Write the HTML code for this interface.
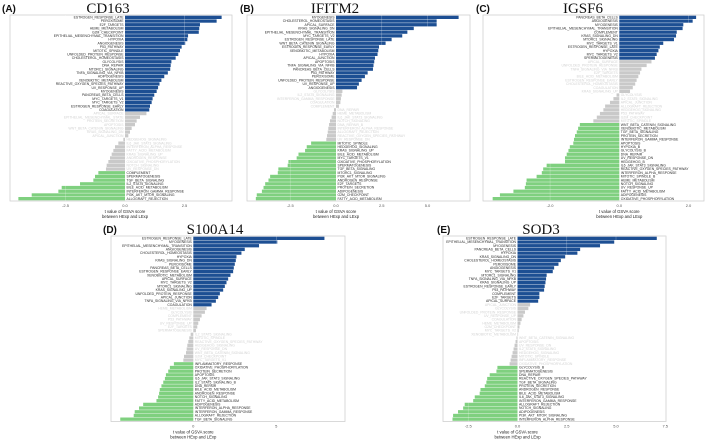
<!DOCTYPE html>
<html><head><meta charset="utf-8">
<style>
html,body{margin:0;padding:0;background:#fff;}
svg{display:block;}
</style></head>
<body>
<svg id="fig" width="709" height="440" viewBox="0 0 709 440" xmlns="http://www.w3.org/2000/svg"></svg>
<script>
// ---- data (t value of GSVA score, HExp vs LExp) ----
const cd163Labels = ["ESTROGEN_RESPONSE_LATE","PEROXISOME","E2F_TARGETS","HEME_METABOLISM","G2M_CHECKPOINT","EPITHELIAL_MESENCHYMAL_TRANSITION","HYPOXIA","ANGIOGENESIS","P53_PATHWAY","MITOTIC_SPINDLE","UNFOLDED_PROTEIN_RESPONSE","CHOLESTEROL_HOMEOSTASIS","GLYCOLYSIS","DNA_REPAIR","MTORC1_SIGNALING","TNFA_SIGNALING_VIA_NFKB","ADIPOGENESIS","XENOBIOTIC_METABOLISM","REACTIVE_OXYGEN_SPECIES_PATHWAY","UV_RESPONSE_UP","MYOGENESIS","PANCREAS_BETA_CELLS","MYC_TARGETS_V1","MYC_TARGETS_V2","ESTROGEN_RESPONSE_EARLY","COAGULATION","APICAL_SURFACE","EPITHELIAL_MESENCHYMAL_STATE","PROTEIN_SECRETION","APOPTOSIS","WNT_BETA_CATENIN_SIGNALING","KRAS_SIGNALING_DN","APICAL_JUNCTION","HEDGEHOG_SIGNALING","IL6_JAK_STAT3_SIGNALING","INTERFERON_ALPHA_RESPONSE","FATTY_ACID_METABOLISM","KRAS_SIGNALING_UP","ANDROGEN_RESPONSE","OXIDATIVE_PHOSPHORYLATION","NOTCH_SIGNALING","UV_RESPONSE_DN","COMPLEMENT","SPERMATOGENESIS","TGF_BETA_SIGNALING","IL2_STAT5_SIGNALING","BILE_ACID_METABOLISM","INTERFERON_GAMMA_RESPONSE","PI3K_AKT_MTOR_SIGNALING","ALLOGRAFT_REJECTION"];
const cd163Values = [4.06,3.85,3.15,3.12,3.1,2.65,2.62,2.53,2.38,2.31,2.24,2.13,1.95,1.92,1.9,1.8,1.65,1.53,1.45,1.39,1.33,1.23,1.16,1.12,1.05,1.02,0.9,0.63,0.49,0.42,0.28,0.21,0.14,-0.07,-0.28,-0.42,-0.49,-0.56,-0.63,-0.7,-0.77,-0.8,-1.12,-1.26,-1.33,-1.89,-2.66,-2.8,-3.92,-4.48];
const cd163Ticks = [-2.5,0,2.5];

const ifitm2Labels = ["MYOGENESIS","CHOLESTEROL_HOMEOSTASIS","APICAL_SURFACE","KRAS_SIGNALING_DN","EPITHELIAL_MESENCHYMAL_TRANSITION","MYC_TARGETS_V2","ESTROGEN_RESPONSE_LATE","WNT_BETA_CATENIN_SIGNALING","ESTROGEN_RESPONSE_EARLY","XENOBIOTIC_METABOLISM","HYPOXIA","APICAL_JUNCTION","APOPTOSIS","TNFA_SIGNALING_VIA_NFKB","PANCREAS_BETA_CELLS","P53_PATHWAY","PEROXISOME","UNFOLDED_PROTEIN_RESPONSE","UV_RESPONSE_UP","ANGIOGENESIS","GLYCOLYSIS","IL2_STAT5_SIGNALING","INTERFERON_GAMMA_RESPONSE","COAGULATION","COMPLEMENT","DNA_REPAIR","HEME_METABOLISM","IL6_JAK_STAT3_SIGNALING","NOTCH_SIGNALING","DNA_REPAIR_B","INTERFERON_ALPHA_RESPONSE","ALLOGRAFT_REJECTION","REACTIVE_OXYGEN_SPECIES_PATHWAY","UV_RESPONSE_DN","MITOTIC_SPINDLE","HEDGEHOG_SIGNALING","KRAS_SIGNALING_UP","BILE_ACID_METABOLISM","MYC_TARGETS_V1","OXIDATIVE_PHOSPHORYLATION","SPERMATOGENESIS","TGF_BETA_SIGNALING","MTORC1_SIGNALING","PI3K_AKT_MTOR_SIGNALING","ANDROGEN_RESPONSE","E2F_TARGETS","PROTEIN_SECRETION","ADIPOGENESIS","G2M_CHECKPOINT","FATTY_ACID_METABOLISM"];
const ifitm2Values = [6.7,5.5,5.5,4.25,3.9,3.62,3.04,2.71,2.35,2.31,2.27,2.13,2.09,2.05,2.02,1.73,1.58,1.4,1.25,1.15,0.35,0.31,0.27,0.24,0.16,-0.11,-0.18,-0.24,-0.33,-0.38,-0.42,-0.45,-0.49,-0.53,-1.36,-1.6,-1.69,-2.05,-2.15,-2.6,-2.64,-3.15,-3.18,-3.6,-3.69,-3.87,-3.96,-4.05,-4.33,-4.38];
const ifitm2Ticks = [-2.5,0,2.5,5];

const igsf6Labels = ["PANCREAS_BETA_CELLS","ANGIOGENESIS","MYOGENESIS","EPITHELIAL_MESENCHYMAL_TRANSITION","COMPLEMENT","KRAS_SIGNALING_DN","MTORC1_SIGNALING","MYC_TARGETS_V1","ESTROGEN_RESPONSE_LATE","HYPOXIA","MYC_TARGETS_V2","SPERMATOGENESIS","APICAL_SURFACE","UNFOLDED_PROTEIN_RESPONSE","TNFA_SIGNALING_VIA_NFKB","E2F_TARGETS","BILE_ACID_METABOLISM","ESTROGEN_RESPONSE_EARLY","CHOLESTEROL_HOMEOSTASIS","COAGULATION","KRAS_SIGNALING_UP","GLYCOLYSIS","IL2_STAT5_SIGNALING","APICAL_JUNCTION","ALLOGRAFT_REJECTION","HEDGEHOG_SIGNALING","P53_PATHWAY","G2M_CHECKPOINT","MITOTIC_SPINDLE","WNT_BETA_CATENIN_SIGNALING","XENOBIOTIC_METABOLISM","TGF_BETA_SIGNALING","PROTEIN_SECRETION","INTERFERON_GAMMA_RESPONSE","APOPTOSIS","HYPOXIA_B","GLYCOLYSIS_B","DNA_REPAIR","UV_RESPONSE_DN","HEDGEHOG_B","IL6_JAK_STAT3_SIGNALING","REACTIVE_OXYGEN_SPECIES_PATHWAY","INTERFERON_ALPHA_RESPONSE","MITOTIC_SPINDLE_B","HEME_METABOLISM","NOTCH_SIGNALING","UV_RESPONSE_UP","FATTY_ACID_METABOLISM","ADIPOGENESIS","OXIDATIVE_PHOSPHORYLATION"];
const igsf6Values = [2.22,2.12,1.85,1.83,1.66,1.64,1.58,1.27,1.17,1.13,1.08,1.03,0.93,0.79,0.64,0.6,0.55,0.5,0.46,0.39,0.31,-0.08,-0.17,-0.27,-0.41,-0.46,-0.56,-0.65,-0.75,-1.14,-1.19,-1.23,-1.28,-1.31,-1.33,-1.43,-1.47,-1.52,-1.57,-1.57,-2.1,-2.2,-2.24,-2.39,-2.68,-2.7,-2.73,-3.06,-3.45,-3.66];
const igsf6Ticks = [-2,0,2];

const s100a14Labels = ["ESTROGEN_RESPONSE_LATE","MYOGENESIS","EPITHELIAL_MESENCHYMAL_TRANSITION","ANGIOGENESIS","CHOLESTEROL_HOMEOSTASIS","HYPOXIA","KRAS_SIGNALING_DN","PEROXISOME","PANCREAS_BETA_CELLS","ESTROGEN_RESPONSE_EARLY","XENOBIOTIC_METABOLISM","APICAL_SURFACE","MYC_TARGETS_V2","MTORC1_SIGNALING","KRAS_SIGNALING_UP","UNFOLDED_PROTEIN_RESPONSE","APICAL_JUNCTION","TNFA_SIGNALING_VIA_NFKB","COAGULATION","HEME_METABOLISM","GLYCOLYSIS","COMPLEMENT","P53_PATHWAY","UV_RESPONSE_UP","E2F_TARGETS","SPERMATOGENESIS","IL2_STAT5_SIGNALING","MITOTIC_SPINDLE","REACTIVE_OXYGEN_SPECIES_PATHWAY","HEDGEHOG_SIGNALING","UV_RESPONSE_DN","WNT_BETA_CATENIN_SIGNALING","G2M_CHECKPOINT","MYC_TARGETS_V1","INFLAMMATORY_RESPONSE","OXIDATIVE_PHOSPHORYLATION","PROTEIN_SECRETION","APOPTOSIS","IL6_JAK_STAT3_SIGNALING","IL2_STAT5_SIGNALING_B","DNA_REPAIR","BILE_ACID_METABOLISM","ANDROGEN_RESPONSE","NOTCH_SIGNALING","FATTY_ACID_METABOLISM","ADIPOGENESIS","INTERFERON_ALPHA_RESPONSE","INTERFERON_GAMMA_RESPONSE","ALLOGRAFT_REJECTION","TGF_BETA_SIGNALING"];
const s100a14Values = [7.9,5.06,3.96,3.1,2.9,2.6,2.56,2.5,2.44,2.4,2.24,2.1,2.0,1.9,1.8,1.6,1.5,1.36,1.1,0.8,0.7,0.5,0.4,0.3,0.24,0.16,-0.16,-0.24,-0.3,-0.36,-0.4,-0.44,-0.56,-0.6,-1.17,-1.41,-1.51,-1.65,-1.71,-1.81,-1.92,-2.02,-2.06,-2.12,-2.22,-3.02,-3.27,-3.53,-3.59,-4.4];
const s100a14Ticks = [0,5];

const sod3Labels = ["ESTROGEN_RESPONSE_LATE","EPITHELIAL_MESENCHYMAL_TRANSITION","MYOGENESIS","PANCREAS_BETA_CELLS","HYPOXIA","KRAS_SIGNALING_DN","CHOLESTEROL_HOMEOSTASIS","PEROXISOME","ANGIOGENESIS","MYC_TARGETS_V1","MTORC1_SIGNALING","TNFA_SIGNALING_VIA_NFKB","KRAS_SIGNALING_UP","ESTROGEN_RESPONSE_EARLY","P53_PATHWAY","COMPLEMENT","E2F_TARGETS","APICAL_SURFACE","APICAL_JUNCTION","GLYCOLYSIS","UNFOLDED_PROTEIN_RESPONSE","UV_RESPONSE_UP","COAGULATION","HEME_METABOLISM","G2M_CHECKPOINT","MYC_TARGETS_V2","XENOBIOTIC_METABOLISM","WNT_BETA_CATENIN_SIGNALING","APOPTOSIS","UV_RESPONSE_DN","IL2_STAT5_SIGNALING","HEDGEHOG_SIGNALING","MITOTIC_SPINDLE","INFLAMMATORY_RESPONSE","OXIDATIVE_PHOSPHORYLATION","GLYCOLYSIS_B","SPERMATOGENESIS","DNA_REPAIR","REACTIVE_OXYGEN_SPECIES_PATHWAY","TGF_BETA_SIGNALING","PROTEIN_SECRETION","ANDROGEN_RESPONSE","BILE_ACID_METABOLISM","IL6_JAK_STAT3_SIGNALING","INTERFERON_GAMMA_RESPONSE","ALLOGRAFT_REJECTION","NOTCH_SIGNALING","ADIPOGENESIS","PI3K_AKT_MTOR_SIGNALING","INTERFERON_ALPHA_RESPONSE"];
const sod3Values = [7.07,4.91,4.19,3.18,3.04,2.42,2.2,2.08,1.86,1.79,1.48,1.45,1.42,1.38,1.35,1.11,1.11,1.05,0.64,0.55,0.38,0.3,0.21,0.15,0.1,0.06,0.03,-0.05,-0.1,-0.15,-0.2,-0.25,-0.3,-0.35,-0.4,-1.02,-1.07,-1.41,-1.54,-1.58,-1.66,-1.88,-1.92,-2.17,-2.25,-2.68,-2.76,-3.02,-3.27,-3.3];
const sod3Ticks = [-2.5,0,2.5,5,7.5];

// ---- layout (not data) ----
const panels = [
  {key:"cd163", tag:"(A)", title:"CD163", labels:cd163Labels, values:cd163Values, ticks:cd163Ticks,
   box:[10,15,232,201], zeroX:125, unitPx:23.8, tagX:2, titleX:108},
  {key:"ifitm2", tag:"(B)", title:"IFITM2", labels:ifitm2Labels, values:ifitm2Values, ticks:ifitm2Ticks,
   box:[247,15,470,201], zeroX:336, unitPx:18.3, tagX:240, titleX:335},
  {key:"igsf6", tag:"(C)", title:"IGSF6", labels:igsf6Labels, values:igsf6Values, ticks:igsf6Ticks,
   box:[483,15,704,201], zeroX:619.3, unitPx:34.6, tagX:476, titleX:583},
  {key:"s100a14", tag:"(D)", title:"S100A14", labels:s100a14Labels, values:s100a14Values, ticks:s100a14Ticks,
   box:[111,236,345,421.5], zeroX:193.3, unitPx:16.6, tagX:103, titleX:215},
  {key:"sod3", tag:"(E)", title:"SOD3", labels:sod3Labels, values:sod3Values, ticks:sod3Ticks,
   box:[443,236,666,421.5], zeroX:517.5, unitPx:19.7, tagX:437, titleX:541}
];

const NS = "http://www.w3.org/2000/svg";
const fig = document.getElementById("fig");
function mk(tag, attrs, parent){
  const e = document.createElementNS(NS, tag);
  for (const k in attrs) e.setAttribute(k, attrs[k]);
  (parent||fig).appendChild(e);
  return e;
}

panels.forEach(p => {
  const g = mk("g", {});
  
  
  const [x0,y0,x1,y1] = p.box;
  const xScale = v => p.zeroX + v * p.unitPx;
  const n = p.values.length;
  const bh = (y1 - y0 - 1) / n;
  const yScale = i => y0 + 0.5 + i * bh;

  // frame
  const fr = mk("rect", {x:x0, y:y0, width:x1-x0, height:y1-y0, fill:"#fff", stroke:"#d0d0d0", "stroke-width":0.8}, g);
  
  

  // bars
  p.values.forEach((v, i) => {
    const col = v >= 1 ? "#1d4f93" : (v <= -1 ? "#7fd07f" : "#c9c9c9");
    const xa = xScale(Math.min(0, v)), xb = xScale(Math.max(0, v));
    const r = mk("rect", {x:xa, y:yScale(i)+0.2, width:Math.max(0.3, xb-xa), height:bh-0.4, fill:col}, g);
    
    
  });

  // gridlines on top (light)
  p.ticks.forEach(t => {
    if (t === 0) return;
    const l = mk("line", {x1:xScale(t), x2:xScale(t), y1:y0, y2:y1, stroke:"#ffffff", "stroke-opacity":0.35, "stroke-width":0.6}, g);
    
    
  });

  // labels
  p.values.forEach((v, i) => {
    const sig = Math.abs(v) >= 1;
    const t = mk("text", {
      x: v >= 0 ? p.zeroX - 1.5 : p.zeroX + 1.5,
      y: yScale(i) + bh*0.8,
      "text-anchor": v >= 0 ? "end" : "start",
      "font-size": 3.4, "font-family": "Liberation Sans, sans-serif",
      fill: sig ? "#2a2a2a" : "#d2d2d2"
    }, g);
    t.textContent = p.labels[i];
    
    
  });

  // ticks
  p.ticks.forEach(t => {
    const tx = mk("text", {x:xScale(t), y:y1+6, "text-anchor":"middle", "font-size":4, "font-family":"Liberation Sans, sans-serif", fill:"#555"}, g);
    tx.textContent = (p.key === "s100a14") ? String(t) : t.toFixed(1);
    
    
  });

  // axis title
  const a1 = mk("text", {x:p.zeroX, y:y1+12, "text-anchor":"middle", "font-size":4.2, "font-family":"Liberation Sans, sans-serif", fill:"#222"}, g);
  a1.textContent = "t value of GSVA score";
  
  
  const a2 = mk("text", {x:p.zeroX, y:y1+17, "text-anchor":"middle", "font-size":4.2, "font-family":"Liberation Sans, sans-serif", fill:"#222"}, g);
  a2.textContent = "between HExp and LExp";
  
  

  // panel tag + title
  const tg = mk("text", {x:p.tagX, y:y0-3, "font-size":10, "font-weight":"bold", "font-family":"Liberation Sans, sans-serif", fill:"#111"}, g);
  tg.textContent = p.tag;
  
  
  const tt = mk("text", {x:p.titleX, y:y0-2, "text-anchor":"middle", "font-size":15, "font-family":"Liberation Serif, serif", fill:"#111"}, g);
  tt.textContent = p.title;
  
  
});
</script>
</body></html>
